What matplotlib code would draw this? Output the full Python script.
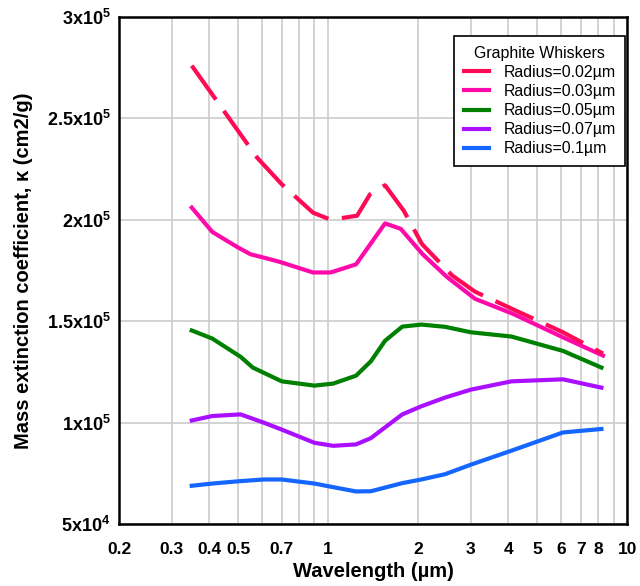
import matplotlib
matplotlib.use("Agg")
import matplotlib.pyplot as plt
from matplotlib.ticker import FixedLocator, NullLocator, NullFormatter

plt.rcParams['font.family'] = ['Liberation Sans', 'DejaVu Sans']
plt.rcParams['mathtext.fontset'] = 'custom'
plt.rcParams['mathtext.rm'] = 'Liberation Sans:bold'
plt.rcParams['mathtext.bf'] = 'Liberation Sans:bold'
plt.rcParams['mathtext.default'] = 'bf'

# ---- data ----
wl_002 = [0.35, 0.40, 0.48, 0.58, 0.70, 0.89, 1.02, 1.25, 1.38, 1.55, 1.79, 2.06, 2.6, 3.1, 4.2, 6.1, 8.3]
k_002 = [276000, 264000, 247500, 230500, 217500, 203500, 200000, 202000, 212500, 217000,
         204500, 188000, 172500, 164500, 155500, 144500, 134000]

wl_003 = [0.35, 0.41, 0.50, 0.55, 0.61, 0.69, 0.89, 1.02, 1.24, 1.55, 1.75, 2.07, 2.5, 3.1, 4.15, 6.1, 8.3]
k_003 = [206000, 194000, 186300, 183000, 181300, 179200, 174000, 174000, 178000, 198200,
         195500, 183000, 171700, 161000, 153600, 142000, 133000]

wl_005 = [0.35, 0.41, 0.51, 0.56, 0.70, 0.90, 1.04, 1.24, 1.39, 1.55, 1.77, 2.05, 2.46, 3.0, 4.1, 6.1, 8.2]
k_005 = [145400, 141400, 132400, 127100, 120300, 118200, 119200, 123100, 130200, 140300,
         147300, 148300, 147200, 144500, 142400, 135300, 127100]

wl_007 = [0.35, 0.41, 0.51, 0.61, 0.70, 0.90, 1.04, 1.24, 1.39, 1.77, 2.05, 2.46, 3.0, 4.1, 6.1, 8.2]
k_007 = [101000, 103200, 104000, 99900, 96500, 90000, 88500, 89200, 92300, 104000,
         108000, 112300, 116200, 120300, 121300, 117200]

wl_01 = [0.35, 0.41, 0.51, 0.61, 0.70, 0.90, 1.04, 1.24, 1.39, 1.77, 2.05, 2.46, 3.0, 4.1, 6.1, 8.2]
k_01 = [68800, 69900, 71100, 71900, 71900, 69900, 68100, 66000, 66100, 70100,
        71900, 74500, 79200, 86100, 95100, 96800]

labels = ['Radius=0.02µm', 'Radius=0.03µm', 'Radius=0.05µm', 'Radius=0.07µm', 'Radius=0.1µm']
colors = ['#FF0A55', '#FF0AAA', '#008000', '#AA10FF', '#1565FF']

x_ticks = [0.2, 0.3, 0.4, 0.5, 0.7, 1, 2, 3, 4, 5, 6, 7, 8, 10]
x_tick_labels = ['0.2', '0.3', '0.4', '0.5', '0.7', '1', '2', '3', '4', '5', '6', '7', '8', '10']
x_grid = [0.2, 0.3, 0.4, 0.5, 0.6, 0.7, 0.8, 0.9, 1, 2, 3, 4, 5, 6, 7, 8, 9, 10]
y_ticks = [50000, 100000, 150000, 200000, 250000, 300000]
y_tick_labels = [r'5x10$^{4}$', r'1x10$^{5}$', r'1.5x10$^{5}$', r'2x10$^{5}$', r'2.5x10$^{5}$', r'3x10$^{5}$']

# ---- figure ----
fig = plt.figure(figsize=(6.4, 5.86), dpi=100)
ax = fig.add_axes([0.186, 0.106, 0.794, 0.865])
ax.set_xscale('log')
ax.set_xlim(0.2, 10)
ax.set_ylim(50000, 300000)

# grid
for g in x_grid:
    ax.axvline(g, color='#CCCCCC', lw=1.2, zorder=0)
for g in y_ticks:
    ax.axhline(g, color='#CCCCCC', lw=1.2, zorder=0)

lw = 3.0
series = [(wl_002, k_002), (wl_003, k_003), (wl_005, k_005), (wl_007, k_007), (wl_01, k_01)]
handles = []
for i, ((wl, k), lab, c) in enumerate(zip(series, labels, colors)):
    if i == 0:
        h, = ax.plot(wl, k, color=c, lw=lw, label=lab, dashes=(10, 3.3), zorder=3)
    else:
        h, = ax.plot(wl, k, color=c, lw=lw, label=lab, zorder=2)
    handles.append(h)

ax.xaxis.set_major_locator(FixedLocator(x_ticks))
ax.xaxis.set_minor_locator(NullLocator())
ax.set_xticklabels(x_tick_labels)
ax.xaxis.set_minor_formatter(NullFormatter())
ax.set_yticks(y_ticks)
ax.set_yticklabels(y_tick_labels)
ax.tick_params(axis='x', length=0, labelsize=12.5, pad=13)
ax.tick_params(axis='y', length=0, labelsize=13, pad=6)
for t in ax.get_xticklabels() + ax.get_yticklabels():
    t.set_fontweight('bold')

for s in ax.spines.values():
    s.set_linewidth(1.8)
    s.set_color('black')

ax.set_xlabel('Wavelength (µm)', fontsize=14.5, fontweight='bold', labelpad=4)
ax.set_ylabel('Mass extinction coefficient, κ (cm2/g)', fontsize=14.5, fontweight='bold', labelpad=10)

leg = ax.legend(handles=handles, title='Graphite Whiskers', loc='upper right',
                bbox_to_anchor=(0.996, 0.962), borderaxespad=0, fancybox=False,
                edgecolor='black', framealpha=1, fontsize=11.4, title_fontsize=11.4,
                handlelength=1.6, handletextpad=0.9, labelspacing=0.26, borderpad=0.6)
leg.get_frame().set_linewidth(1.2)
for lh in leg.get_lines():
    lh.set_linestyle('-')

fig.savefig('out.png', dpi=100)
